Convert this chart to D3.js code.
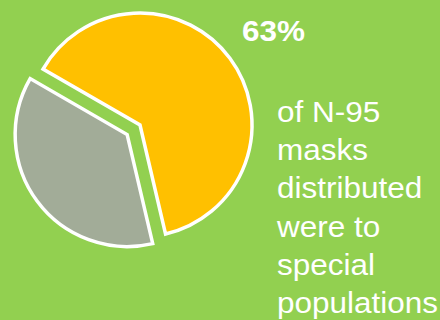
<!DOCTYPE html>
<html lang="en">
<head>
    <meta charset="UTF-8">
    <title>N-95 masks</title>
    <script src="https://d3js.org/d3.v7.min.js"></script>
    <style>
        html, body { margin: 0; padding: 0; background: #92D050; }
        svg { display: block; font-family: Arial, "Liberation Sans", sans-serif; }
    </style>
</head>
<body>
    <div id="chart"></div>
    <script>
        // slices of the pie
        const categories = ["Special populations", "Other"];
        const shares = [63, 37];
        const colors = ["#FFC000", "#A2AC98"];
        const exploded = [false, true];

        const headline = "63%";
        const captionLines = ["of N-95", "masks", "distributed", "were to", "special", "populations"];

        const width = 440;
        const height = 320;
        const cx = 140, cy = 125;
        const radius = 112;
        const explodeBy = 16;
        const stretch = 1.05; // text in the original is a little wide

        const svg = d3.select("#chart")
            .append("svg")
            .attr("width", width)
            .attr("height", height);

        svg.append("rect")
            .attr("width", width)
            .attr("height", height)
            .attr("fill", "#92D050");

        const pie = d3.pie()
            .sort(null)
            .startAngle(-60 * Math.PI / 180)
            .endAngle(300 * Math.PI / 180);

        const arc = d3.arc()
            .innerRadius(0)
            .outerRadius(radius);

        const slices = pie(shares);

        svg.append("g")
            .attr("transform", `translate(${cx},${cy})`)
            .selectAll("path")
            .data(slices)
            .join("path")
            .attr("d", arc)
            .attr("fill", (d, i) => colors[i])
            .attr("stroke", "#fff")
            .attr("stroke-width", 3.5)
            .attr("stroke-linejoin", "miter")
            .attr("transform", (d, i) => {
                if (!exploded[i]) return null;
                const mid = (d.startAngle + d.endAngle) / 2;
                return `translate(${explodeBy * Math.sin(mid)},${-explodeBy * Math.cos(mid)})`;
            })
            .append("title")
            .text((d, i) => categories[i]);

        svg.append("text")
            .attr("transform", `translate(242,41) scale(${stretch},1)`)
            .attr("fill", "#fff")
            .style("font-size", "30px")
            .style("font-weight", "bold")
            .text(headline);

        svg.append("g")
            .selectAll("text")
            .data(captionLines)
            .join("text")
            .attr("transform", (d, i) => `translate(277,${122 + i * 38.2}) scale(${stretch},1)`)
            .attr("fill", "#fff")
            .style("font-size", "30px")
            .text(d => d);
    </script>
</body>
</html>
